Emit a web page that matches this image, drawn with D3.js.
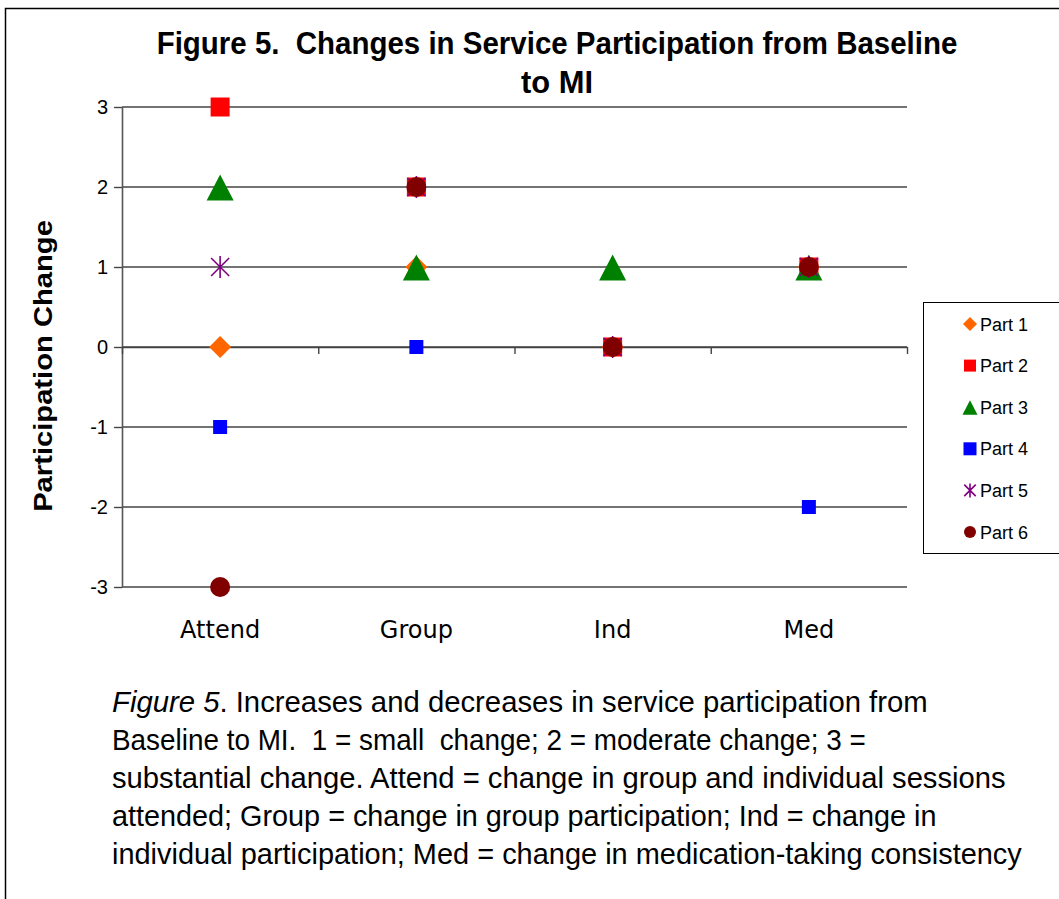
<!DOCTYPE html>
<html>
<head>
<meta charset="utf-8">
<script src="https://cdn.jsdelivr.net/npm/d3@7"></script>
<style>
  html, body { margin: 0; padding: 0; background: #fff; }
  svg { display: block; }
</style>
</head>
<body>
<svg id="chart" width="1059" height="899"></svg>
<script>
// Categories of service participation
const categories = ["Attend", "Group", "Ind", "Med"];

// Change scores per participant, one value per category
const part1 = [0, 1, 0, 1];
const part2 = [3, 2, 0, 1];
const part3 = [2, 1, 1, 1];
const part4 = [-1, 0, 0, -2];
const part5 = [1, 2, 0, 1];
const part6 = [-3, 2, 0, 1];

const seriesNames = ["Part 1", "Part 2", "Part 3", "Part 4", "Part 5", "Part 6"];
const yTicks = [-3, -2, -1, 0, 1, 2, 3];

const captionLines = [
  [{t: "Figure 5", i: true}, {t: ". Increases and decreases in service participation from"}],
  [{t: "Baseline to MI.  1 = small  change; 2 = moderate change; 3 ="}],
  [{t: "substantial change. Attend = change in group and individual sessions"}],
  [{t: "attended; Group = change in group participation; Ind = change in"}],
  [{t: "individual participation; Med = change in medication-taking consistency"}]
];
const captionWidths = [816, 754, 894, 825, 910];

const series = [
  {name: seriesNames[0], values: part1, shape: "diamond",  color: "#FF6600", size: 22, lsize: 14},
  {name: seriesNames[1], values: part2, shape: "square",   color: "#FF0000", size: 19, lsize: 12},
  {name: seriesNames[2], values: part3, shape: "triangle", color: "#008000", size: 27, lsize: 15},
  {name: seriesNames[3], values: part4, shape: "square",   color: "#0000FF", size: 14, lsize: 13},
  {name: seriesNames[4], values: part5, shape: "star",     color: "#800080", size: 22, lsize: 14},
  {name: seriesNames[5], values: part6, shape: "circle",   color: "#800000", size: 20, lsize: 12}
];

const svg = d3.select("#chart");
const W = 1059, H = 899;

// Outer frame
svg.append("rect")
  .attr("x", 5.5).attr("y", 8.5)
  .attr("width", W + 10).attr("height", H + 10)
  .attr("fill", "#fff").attr("stroke", "#000").attr("stroke-width", 1.5);

const plot = {left: 122, right: 907, top: 107, bottom: 587};

const x = d3.scaleBand().domain(categories).range([plot.left, plot.right]).padding(0);
const xEdge = d3.scaleLinear().domain([0, categories.length]).range([plot.left, plot.right]);
const y = d3.scaleLinear().domain([-3, 3]).range([plot.bottom, plot.top]);

// Stretch/compress text horizontally to a target width
function fitWidth(sel, target) {
  const w = sel.node().getComputedTextLength();
  const k = target / w;
  const tx = +sel.attr("data-x"), ty = +sel.attr("data-y");
  sel.attr("transform", `translate(${tx},${ty}) scale(${k},1)`);
}

// Title
const titleFont = "'Liberation Sans', Arial, sans-serif";
[["Figure 5.  Changes in Service Participation from Baseline", 54, 801],
 ["to MI", 93, 72]].forEach(([txt, by, w]) => {
  const t = svg.append("text")
    .attr("data-x", 557).attr("data-y", by)
    .attr("text-anchor", "middle")
    .attr("font-family", titleFont).attr("font-weight", "bold")
    .attr("font-size", 31).attr("fill", "#000")
    .style("white-space", "pre")
    .text(txt);
  fitWidth(t, w);
});

// Horizontal gridlines
svg.append("g").selectAll("line")
  .data(yTicks)
  .join("line")
  .attr("x1", plot.left).attr("x2", plot.right)
  .attr("y1", d => y(d)).attr("y2", d => y(d))
  .attr("stroke", "#444").attr("stroke-width", 1.4);

// Y axis
const yAxis = svg.append("g")
  .attr("transform", `translate(${plot.left},0)`)
  .call(d3.axisLeft(y).tickValues(yTicks).tickFormat(d3.format("d")).tickSize(8).tickSizeOuter(0).tickPadding(6));
yAxis.attr("font-size", 20).attr("font-family", titleFont);
yAxis.select(".domain").attr("stroke", "#555").attr("stroke-width", 1.6);
yAxis.selectAll(".tick line").attr("stroke", "#444").attr("stroke-width", 1.4);
yAxis.selectAll(".tick text")
  .attr("font-family", titleFont).attr("font-size", 20).attr("fill", "#000")
  .text(d => d < 0 ? "-" + Math.abs(d) : d);

// X axis along the zero line, ticks at category boundaries
const xAxis = svg.append("g")
  .attr("transform", `translate(0,${y(0)})`)
  .call(d3.axisBottom(xEdge).tickValues(d3.range(categories.length + 1)).tickFormat("").tickSize(7).tickSizeOuter(0));
xAxis.select(".domain").attr("stroke", "#444").attr("stroke-width", 1.4);
xAxis.selectAll(".tick line").attr("stroke", "#444").attr("stroke-width", 1.4);

// Category labels below the plot
svg.append("g").selectAll("text")
  .data(categories)
  .join("text")
  .attr("x", d => x(d) + x.bandwidth() / 2)
  .attr("y", 638)
  .attr("text-anchor", "middle")
  .attr("font-family", "'DejaVu Sans', Verdana, sans-serif")
  .attr("font-size", 24).attr("fill", "#000")
  .text(d => d);

// Y axis title
const yTitle = svg.append("text")
  .attr("text-anchor", "middle")
  .attr("font-family", titleFont).attr("font-weight", "bold")
  .attr("font-size", 25).attr("fill", "#000")
  .text("Participation Change");
{
  const w = yTitle.node().getComputedTextLength();
  yTitle.attr("transform", `translate(52,366) rotate(-90) scale(${292 / w},1)`);
}

// Marker path generator
function markerPath(shape, s) {
  const h = s / 2;
  switch (shape) {
    case "diamond": return `M0,${-h}L${h},0L0,${h}L${-h},0Z`;
    case "square": return `M${-h},${-h}H${h}V${h}H${-h}Z`;
    case "triangle": {
      const th = s * 0.96;
      return `M0,${-th * 0.48}L${h},${th * 0.52}L${-h},${th * 0.52}Z`;
    }
    case "star": {
      const d = h * 0.82;
      return `M0,${-h}V${h}M${-d},${-d}L${d},${d}M${d},${-d}L${-d},${d}`;
    }
    default: return "";
  }
}

function drawMarker(g, shape, s, color) {
  if (shape === "circle") {
    g.append("circle").attr("r", s / 2).attr("fill", color);
  } else if (shape === "star") {
    g.append("path").attr("d", markerPath(shape, s))
      .attr("fill", "none").attr("stroke", color).attr("stroke-width", 1.6);
  } else {
    g.append("path").attr("d", markerPath(shape, s)).attr("fill", color);
  }
}

// Data points, series drawn in order so later series sit on top
series.forEach(sr => {
  const g = svg.append("g").attr("class", "series");
  sr.values.forEach((v, i) => {
    const mg = g.append("g")
      .attr("transform", `translate(${x(categories[i]) + x.bandwidth() / 2},${y(v)})`);
    drawMarker(mg, sr.shape, sr.size, sr.color);
  });
});

// Legend
const legend = svg.append("g");
legend.append("rect")
  .attr("x", 923.5).attr("y", 302.5)
  .attr("width", 150).attr("height", 251)
  .attr("fill", "#fff").attr("stroke", "#000").attr("stroke-width", 1);
const rowY = d3.scaleLinear().domain([0, series.length - 1]).range([324, 532]);
series.forEach((sr, i) => {
  const mg = legend.append("g").attr("transform", `translate(970,${rowY(i)})`);
  drawMarker(mg, sr.shape, sr.lsize, sr.color);
  legend.append("text")
    .attr("x", 980).attr("y", rowY(i) + 6.5)
    .attr("font-family", titleFont).attr("font-size", 18).attr("fill", "#000")
    .text(sr.name);
});

// Caption
captionLines.forEach((parts, i) => {
  const t = svg.append("text")
    .attr("data-x", 112).attr("data-y", 712 + i * 38)
    .attr("font-family", titleFont).attr("font-size", 29).attr("fill", "#000")
    .style("white-space", "pre");
  parts.forEach(p => {
    t.append("tspan").attr("font-style", p.i ? "italic" : "normal").text(p.t);
  });
  fitWidth(t, captionWidths[i]);
});
</script>
</body>
</html>
